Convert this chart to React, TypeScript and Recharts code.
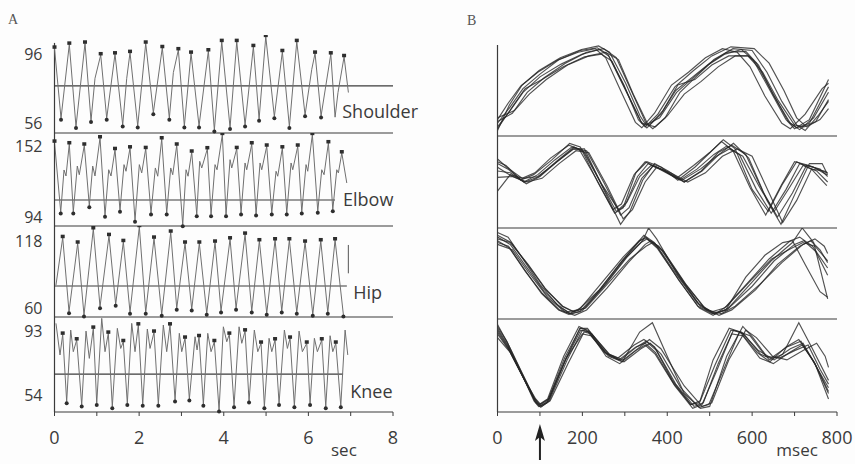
import React from 'react';
import { LineChart, Line, XAxis, YAxis, ReferenceLine, ReferenceDot } from 'recharts';

type Pt = number[];

// A: joint angle (deg) against time (sec) -> [t, deg, marker] (1 = peak mark, -1 = trough mark)
const secTicks = [0, 1, 2, 3, 4, 5, 6, 7, 8];
const msecTicks = [0, 100, 200, 300, 400, 500, 600, 700, 800];

const shoulderA: Pt[] = [
  [0, 98.6, 1], [0.154, 59.7, -1], [0.35, 100.8, 1], [0.508, 55.1, -1], [0.721, 101.4, 1], [0.863, 58.4, -1],
  [0.957, 81.9], [1.092, 94.9, 1], [1.234, 59.7, -1], [1.43, 95.4, 1], [1.612, 56.0, -1], [1.707, 81.9],
  [1.785, 96.2, 1], [1.967, 55.4, -1], [2.156, 101.4, 1], [2.336, 62.8, -1], [2.548, 98.9, 1], [2.714, 59.7, -1],
  [2.809, 85.1], [2.927, 97.7, 1], [3.069, 55.4, -1], [3.227, 95.8, 1], [3.416, 55.4, -1], [3.636, 97.1, 1],
  [3.778, 53.2, -1], [3.953, 102.3, 1], [4.149, 54.5, -1], [4.307, 102.3, 1], [4.504, 56.0, -1], [4.7, 99.5, 1],
  [4.835, 59.2, -1], [4.993, 105.1, 1], [5.196, 60.6, -1], [5.385, 96.7, 1], [5.551, 55.1, -1], [5.726, 102.3, 1],
  [5.922, 61.6, -1], [6.08, 86.9], [6.158, 95.8, 1], [6.3, 61.0, -1], [6.53, 95.4, 1], [6.631, 60.3], [6.7, 74],
  [6.844, 93.9, 1], [6.946, 74.0],
];

const elbowA: Pt[] = [
  [0, 154.1, 1], [0.147, 99.5, -1], [0.225, 132.4], [0.272, 127.7], [0.35, 152.8, 1], [0.444, 99.5, -1],
  [0.539, 135.5], [0.586, 128.7], [0.704, 151.8, 1], [0.823, 104.4, -1], [0.903, 135.5], [0.957, 127.7],
  [1.076, 157.5, 1], [1.194, 96.9, -1], [1.281, 132.6], [1.336, 127.7], [1.43, 148.3, 1], [1.548, 100.8, -1],
  [1.643, 136.6], [1.69, 131.4], [1.785, 149.6, 1], [1.903, 93.0, -1], [2.005, 136.6], [2.061, 130.1],
  [2.156, 149.1, 1], [2.281, 98.7, -1], [2.383, 134.0], [2.44, 127.5], [2.534, 156.7, 1], [2.652, 98.7, -1],
  [2.747, 134.0], [2.794, 128.7], [2.889, 151.8, 1], [3.031, 89.5, -1], [3.109, 132.6], [3.156, 127.5],
  [3.243, 146.3, 1], [3.362, 97.4, -1], [3.432, 139.2], [3.48, 134.0], [3.612, 148.9, 1], [3.7, 97.4, -1],
  [3.794, 136.6], [3.841, 132.6], [3.967, 160.1, 1], [4.054, 97.4, -1], [4.149, 140.5], [4.189, 134.0],
  [4.307, 149.1, 1], [4.409, 98.7, -1], [4.503, 137.9], [4.543, 132.6], [4.662, 152.8, 1], [4.764, 97.9, -1],
  [4.858, 137.9], [4.898, 132.6], [5.016, 151.0, 1], [5.135, 98.7, -1], [5.236, 131.4], [5.276, 127.5],
  [5.385, 149.6, 1], [5.489, 98.7, -1], [5.591, 137.9], [5.631, 132.6], [5.749, 151.0, 1], [5.844, 99.5, -1],
  [5.945, 136.6], [5.985, 131.4], [6.094, 160.1, 1], [6.222, 100.0, -1], [6.316, 132.6], [6.371, 128.7],
  [6.473, 153.6, 1], [6.577, 101.3, -1], [6.671, 132.6], [6.709, 130.1], [6.79, 145.7, 1], [6.908, 122.2],
];

const hipA: Pt[] = [
  [0.035, 80.7], [0.194, 119.9, 1], [0.343, 58.6, -1], [0.548, 115.3, 1], [0.697, 55.9, -1], [0.917, 127.1, 1],
  [1.076, 62.7, -1], [1.288, 121.6, 1], [1.446, 64.7, -1], [1.627, 116.6, 1], [1.785, 58.1, -1], [2.005, 129.0, 1],
  [2.156, 58.1, -1], [2.352, 119.4, 1], [2.534, 56.4, -1], [2.747, 124.4, 1], [2.889, 61.4, -1], [3.085, 115.3, 1],
  [3.243, 60.8, -1], [3.423, 115.3, 1], [3.598, 57.3, -1], [3.794, 116.1, 1], [3.936, 59.2, -1], [4.149, 118.8, 1],
  [4.291, 61.4, -1], [4.504, 122.7, 1], [4.662, 59.2, -1], [4.842, 117.2, 1], [5.016, 57.3, -1], [5.213, 118.0, 1],
  [5.371, 59.2, -1], [5.551, 118.0, 1], [5.726, 58.1, -1], [5.922, 116.1, 1], [6.104, 56.4, -1], [6.293, 117.2, 1],
  [6.459, 58.1, -1], [6.631, 118.0, 1], [6.828, 55.9, -1],
];
const hipCalibration: Pt[] = [[6.946, 113.9], [6.946, 90.4]];

const kneeA: Pt[] = [
  [0.035, 96.9], [0.13, 78.5], [0.194, 90.5, 1], [0.288, 51.3, -1], [0.383, 93.0], [0.444, 80.4], [0.525, 87.2, 1],
  [0.643, 49.4, -1], [0.745, 92.4], [0.823, 76.5], [0.917, 94.0, 1], [0.998, 50.3, -1], [1.116, 99.8], [1.194, 80.4],
  [1.272, 91.1, 1], [1.366, 48.4, -1], [1.485, 94.0], [1.565, 82.3], [1.626, 86.2, 1], [1.721, 50.3, -1],
  [1.825, 96.9], [1.903, 80.4], [1.981, 95.9, 1], [2.085, 49.8, -1], [2.194, 93.6], [2.258, 82.3], [2.352, 91.7, 1],
  [2.454, 49.8, -1], [2.572, 95.9], [2.652, 80.4], [2.73, 95.9, 1], [2.849, 52.3, -1], [2.95, 91.1], [3.007, 80.4],
  [3.085, 88.2, 1], [3.187, 52.8, -1], [3.322, 89.1], [3.369, 81.4], [3.416, 89.1, 1], [3.518, 49.8, -1],
  [3.622, 91.1], [3.7, 80.4], [3.778, 86.2, 1], [3.889, 46.4, -1], [3.991, 94.9], [4.071, 86.2], [4.132, 90.5, 1],
  [4.243, 48.9, -1], [4.362, 94.9], [4.426, 85.3], [4.504, 92.4, 1], [4.598, 51.7, -1], [4.723, 93.0], [4.804, 80.4],
  [4.882, 85.3, 1], [4.96, 48.4, -1], [5.071, 88.2], [5.135, 80.4], [5.213, 87.2, 1], [5.307, 50.3, -1],
  [5.433, 93.0], [5.504, 82.3], [5.567, 88.2, 1], [5.669, 48.9, -1], [5.78, 92.4], [5.858, 80.4], [5.962, 85.3, 1],
  [6.04, 50.3, -1], [6.142, 88.2], [6.213, 80.4], [6.317, 87.2, 1], [6.411, 48.4, -1], [6.513, 89.7], [6.577, 80.4],
  [6.648, 85.3, 1], [6.766, 48.9, -1], [6.868, 93.0], [6.931, 78.5],
];

const jointNames = ['Shoulder', 'Elbow', 'Hip', 'Knee'];
const rangeLabels = [[56, 96], [94, 152], [60, 118], [54, 93]];
const meanAngles = [77.7, 108.9, 79.9, 67.4];

// B: superimposed cycles, [msec, relative position 0-100]
const shoulderRuns: Pt[][] = [
  [[0, 10], [30, 28], [60, 48], [100, 65], [150, 79], [200, 90], [240, 95], [262, 88], [300, 52], [338, 16], [352, 9], [385, 24], [420, 50], [460, 65], [500, 80], [540, 92], [585, 93], [615, 78], [650, 45], [690, 14], [712, 7], [745, 20], [780, 48]],
  [[0, 16], [35, 25], [70, 48], [110, 64], [160, 80], [210, 92], [250, 96], [280, 86], [315, 50], [350, 14], [366, 8], [395, 20], [430, 48], [470, 66], [510, 84], [555, 96], [600, 94], [635, 70], [670, 38], [705, 12], [725, 6], [755, 22], [780, 38]],
  [[0, 18], [25, 36], [55, 55], [95, 70], [140, 83], [190, 92], [230, 96], [255, 86], [290, 50], [325, 15], [340, 9], [370, 25], [410, 56], [450, 70], [490, 86], [530, 96], [565, 92], [595, 76], [630, 44], [670, 14], [690, 8], [725, 24], [765, 52], [780, 58]],
  [[0, 8], [35, 32], [65, 52], [105, 62], [155, 76], [205, 87], [245, 90], [270, 82], [305, 48], [340, 14], [358, 12], [390, 28], [425, 56], [465, 62], [505, 78], [545, 88], [590, 88], [625, 70], [660, 40], [700, 12], [722, 10], [750, 16], [780, 40]],
  [[0, 14], [30, 32], [60, 52], [100, 68], [145, 84], [195, 94], [235, 97], [260, 90], [298, 56], [332, 18], [348, 10], [378, 24], [418, 54], [462, 72], [505, 88], [550, 98], [605, 96], [640, 80], [675, 50], [705, 20], [728, 10], [760, 18], [780, 30]],
  [[0, 20], [40, 28], [75, 46], [115, 62], [165, 78], [215, 88], [255, 92], [285, 84], [320, 46], [355, 12], [372, 10], [400, 22], [440, 46], [480, 60], [520, 76], [560, 88], [590, 88], [610, 80], [645, 50], [685, 16], [705, 9], [735, 14], [780, 54]],
  [[0, 6], [28, 34], [58, 56], [98, 72], [148, 86], [198, 95], [238, 99], [264, 92], [302, 58], [336, 22], [350, 12], [382, 20], [422, 48], [456, 62], [496, 78], [536, 90], [575, 95], [602, 84], [640, 52], [680, 18], [700, 8], [735, 18], [780, 62]],
];

const elbowRuns: Pt[][] = [
  [[0, 70], [25, 64], [62, 50], [95, 58], [135, 74], [175, 88], [200, 85], [240, 52], [280, 18], [300, 24], [330, 56], [355, 70], [390, 63], [430, 52], [470, 64], [510, 80], [540, 89], [570, 80], [610, 42], [645, 16], [680, 42], [712, 70], [745, 66], [776, 58]],
  [[0, 62], [30, 60], [68, 48], [100, 56], [140, 72], [180, 86], [210, 84], [250, 50], [290, 14], [310, 22], [340, 54], [368, 68], [400, 60], [440, 50], [480, 62], [520, 82], [552, 90], [585, 80], [625, 40], [660, 12], [695, 38], [728, 68], [760, 64], [778, 56]],
  [[0, 75], [22, 66], [58, 54], [88, 60], [125, 76], [168, 90], [192, 86], [232, 54], [272, 20], [292, 26], [322, 58], [348, 72], [382, 64], [422, 54], [462, 68], [500, 82], [528, 94], [555, 84], [595, 44], [632, 14], [668, 46], [700, 72], [735, 68], [776, 60]],
  [[0, 55], [35, 56], [70, 50], [105, 54], [145, 70], [185, 84], [215, 82], [258, 46], [296, 10], [318, 20], [348, 50], [375, 66], [408, 60], [448, 50], [490, 60], [530, 78], [565, 86], [600, 78], [640, 38], [672, 6], [705, 30], [740, 64], [770, 62], [778, 60]],
  [[0, 72], [20, 68], [55, 52], [85, 58], [128, 74], [170, 92], [195, 88], [236, 50], [276, 16], [296, 22], [326, 60], [352, 72], [386, 66], [425, 52], [465, 66], [505, 84], [532, 96], [560, 86], [600, 42], [638, 18], [672, 48], [705, 72], [740, 64], [776, 46]],
  [[0, 66], [28, 58], [65, 50], [98, 56], [138, 72], [180, 88], [206, 82], [245, 48], [285, 20], [305, 28], [335, 56], [362, 68], [395, 62], [435, 52], [478, 64], [516, 78], [546, 86], [578, 78], [618, 44], [652, 18], [688, 44], [720, 68], [752, 62], [778, 50]],
  [[0, 40], [30, 58], [60, 54], [95, 56], [135, 70], [178, 86], [205, 86], [248, 44], [290, 4], [312, 18], [342, 52], [370, 70], [402, 62], [440, 50], [482, 62], [522, 80], [556, 92], [592, 76], [635, 30], [668, 4], [700, 36], [735, 70], [765, 70], [778, 58]],
];

const hipRuns: Pt[][] = [
  [[0, 90], [30, 82], [70, 56], [110, 30], [150, 12], [172, 6], [200, 9], [250, 36], [300, 66], [338, 84], [352, 88], [380, 80], [430, 46], [478, 14], [512, 5], [545, 12], [600, 36], [652, 64], [700, 82], [722, 86], [750, 74], [778, 48]],
  [[0, 95], [25, 90], [60, 66], [100, 38], [140, 16], [165, 8], [190, 10], [240, 32], [290, 62], [330, 84], [345, 92], [370, 84], [420, 50], [470, 18], [505, 8], [535, 12], [590, 40], [640, 66], [690, 86], [712, 90], [742, 80], [778, 56]],
  [[0, 82], [35, 76], [75, 50], [118, 24], [158, 8], [182, 4], [210, 10], [258, 34], [308, 62], [348, 82], [362, 86], [388, 76], [440, 40], [488, 12], [522, 4], [552, 10], [608, 32], [660, 60], [712, 80], [738, 86], [760, 76], [778, 62]],
  [[0, 88], [30, 84], [72, 60], [112, 34], [152, 14], [178, 8], [205, 12], [255, 38], [305, 68], [342, 86], [356, 100], [375, 88], [425, 48], [475, 16], [510, 6], [540, 10], [595, 38], [645, 64], [695, 84], [718, 100], [745, 84], [778, 22]],
  [[0, 86], [28, 78], [66, 52], [106, 28], [146, 10], [170, 6], [196, 12], [246, 40], [296, 68], [334, 86], [350, 90], [378, 78], [428, 42], [476, 12], [508, 4], [540, 14], [596, 42], [646, 66], [694, 78], [720, 84], [748, 80], [778, 64]],
  [[0, 92], [32, 84], [74, 58], [114, 32], [154, 14], [180, 8], [208, 12], [262, 40], [312, 66], [350, 80], [366, 84], [392, 74], [444, 38], [492, 10], [528, 6], [560, 14], [618, 38], [670, 62], [720, 82], [748, 88], [770, 80], [778, 72]],
  [[0, 84], [26, 80], [64, 54], [104, 28], [144, 10], [168, 5], [194, 8], [244, 34], [294, 64], [336, 86], [350, 89], [376, 78], [426, 44], [472, 14], [506, 6], [538, 10], [585, 46], [630, 70], [672, 84], [695, 86], [725, 60], [760, 30], [778, 24]],
];

const kneeRuns: Pt[][] = [
  [[0, 88], [25, 70], [60, 38], [88, 12], [100, 6], [120, 12], [160, 56], [196, 88], [215, 86], [258, 62], [290, 56], [328, 70], [350, 76], [375, 66], [420, 30], [463, 6], [485, 10], [520, 52], [556, 88], [580, 84], [620, 62], [652, 56], [690, 68], [720, 74], [750, 50], [780, 20]],
  [[0, 92], [22, 76], [55, 44], [85, 16], [98, 8], [118, 14], [156, 60], [192, 92], [210, 88], [252, 64], [284, 58], [322, 72], [345, 78], [370, 70], [412, 34], [455, 8], [476, 10], [508, 56], [546, 90], [572, 86], [612, 64], [642, 54], [680, 70], [710, 78], [742, 56], [780, 26]],
  [[0, 84], [28, 66], [64, 34], [92, 10], [104, 6], [124, 12], [166, 52], [204, 86], [222, 84], [266, 60], [298, 54], [338, 68], [360, 74], [386, 62], [432, 26], [475, 5], [498, 8], [535, 48], [570, 86], [595, 82], [632, 60], [664, 58], [700, 66], [732, 72], [760, 46], [780, 30]],
  [[0, 80], [30, 64], [62, 36], [90, 14], [102, 8], [122, 14], [162, 58], [200, 84], [220, 82], [262, 60], [294, 54], [335, 86], [365, 96], [400, 60], [440, 20], [478, 4], [500, 6], [540, 60], [578, 92], [602, 80], [640, 56], [672, 62], [710, 96], [740, 70], [780, 34]],
  [[0, 90], [24, 72], [58, 40], [86, 12], [97, 6], [116, 10], [158, 54], [194, 90], [212, 90], [255, 64], [286, 56], [326, 70], [348, 74], [372, 64], [416, 30], [456, 8], [478, 12], [512, 50], [550, 88], [575, 86], [615, 66], [645, 58], [682, 70], [715, 76], [748, 52], [780, 14]],
  [[0, 86], [26, 68], [62, 36], [90, 10], [102, 5], [122, 12], [164, 56], [200, 88], [218, 86], [264, 62], [296, 56], [336, 70], [358, 78], [385, 68], [440, 28], [482, 6], [505, 10], [545, 56], [585, 88], [610, 80], [648, 60], [682, 56], [720, 66], [752, 74], [772, 60], [780, 48]],
  [[0, 94], [24, 74], [58, 42], [88, 14], [100, 8], [120, 14], [158, 58], [195, 90], [214, 88], [256, 60], [288, 52], [326, 66], [348, 72], [372, 62], [418, 28], [460, 4], [482, 8], [518, 46], [552, 84], [578, 82], [618, 58], [650, 52], [688, 64], [718, 72], [746, 54], [780, 22]],
];

const INK = '#3b3b3b';
const TRACE = '#707070';
const FONT = "'Open Sans', 'DejaVu Sans', sans-serif";

const toRows = (pts: Pt[]) => pts.map(([t, v, m]) => ({ t, v, m: m || 0 }));

const markDot = (p: any) => {
  const { cx, cy, payload, index } = p;
  if (payload.m === 1) return <rect key={index} x={cx - 2} y={cy - 3} width={4} height={3.5} fill="#2e2e2e" />;
  if (payload.m === -1) return <circle key={index} cx={cx} cy={cy + 1.5} r={2} fill="#2e2e2e" />;
  return <g key={index} />;
};

// range labels: the lower one sits a little higher, the upper one a little lower, so stacked strips don't collide
const rangeTick = (p: any) => {
  const { x, y, payload, index } = p;
  const nudge = index === 0 ? -1.5 : 1.5;
  return (
    <text x={x} y={y + nudge} dy="0.355em" textAnchor="end" fill={INK} fontSize={16}>
      {payload.value}
    </text>
  );
};

const arrowShape = (p: any) => {
  const { cx, cy } = p;
  return (
    <g>
      <line x1={cx} y1={cy + 24} x2={cx} y2={cy + 48} stroke="#222" strokeWidth={2} />
      <path d={`M${cx} ${cy + 12} L${cx - 5} ${cy + 29} L${cx} ${cy + 25} L${cx + 5} ${cy + 29} Z`} fill="#222" />
    </g>
  );
};

// layout of the stacked strips (px)
const aStrips = [
  { top: 35, h: 98, domain: [51.5, 106], midEnd: 8, labelAt: [6.8, 63.2], trace: shoulderA },
  { top: 133, h: 93, domain: [88.5, 161.4], midEnd: 6.63, labelAt: [6.82, 108.9], trace: elbowA },
  { top: 226, h: 91, domain: [54.2, 129.6], midEnd: 6.91, labelAt: [7.06, 74.1], trace: hipA },
  { top: 317, h: 95, domain: [45.3, 100.6], midEnd: 6.82, labelAt: [6.99, 56.9], trace: kneeA },
];
const bStrips = [
  { top: 45, h: 91, runs: shoulderRuns },
  { top: 136, h: 92, runs: elbowRuns },
  { top: 228, h: 91, runs: hipRuns },
  { top: 319, h: 93, runs: kneeRuns },
];

function panelA(i: number) {
  const s = aStrips[i];
  const last = i === aStrips.length - 1;
  const axisH = last ? 464 - s.top - s.h : 4;
  return (
    <div key={`a${i}`} style={{ position: 'absolute', left: 0, top: s.top }}>
      <LineChart width={440} height={s.h + axisH} margin={{ top: 0, right: 47, bottom: 0, left: 0 }}>
        <XAxis
          type="number"
          dataKey="t"
          domain={[0, 8]}
          ticks={secTicks}
          interval={0}
          height={axisH}
          axisLine={{ stroke: INK, strokeWidth: 1.2 }}
          tickLine={{ stroke: INK }}
          tickSize={4}
          tickMargin={15}
          tick={last ? { fill: INK, fontSize: 18 } : false}
          tickFormatter={(v: number) => (v % 2 === 0 ? String(v) : '')}
        />
        <YAxis
          type="number"
          domain={s.domain}
          ticks={rangeLabels[i]}
          interval={0}
          width={54.5}
          axisLine={i === 0 ? false : { stroke: INK, strokeWidth: 1.2 }}
          tickLine={false}
          tickSize={0}
          tickMargin={12}
          tick={rangeTick}
        />
        {i === 0 && (
          <ReferenceLine segment={[{ x: 0, y: 51.5 }, { x: 0, y: 101.6 }]} stroke={INK} strokeWidth={1.2} />
        )}
        <ReferenceLine
          segment={[{ x: 0, y: meanAngles[i] }, { x: s.midEnd, y: meanAngles[i] }]}
          stroke={INK}
          strokeWidth={1.2}
        />
        <Line
          data={toRows(s.trace)}
          dataKey="v"
          type="linear"
          stroke={TRACE}
          strokeWidth={1}
          dot={markDot}
          activeDot={false}
          isAnimationActive={false}
        />
        {i === 2 && (
          <Line
            data={toRows(hipCalibration)}
            dataKey="v"
            stroke={TRACE}
            strokeWidth={1.2}
            dot={false}
            activeDot={false}
            isAnimationActive={false}
          />
        )}
        <ReferenceDot
          x={s.labelAt[0]}
          y={s.labelAt[1]}
          r={0}
          fill="none"
          stroke="none"
          ifOverflow="visible"
          label={{ value: jointNames[i], position: 'right', offset: 0, fill: INK, fontSize: 18 }}
        />
        {last && (
          <ReferenceDot
            x={6.84}
            y={45.3}
            r={0}
            fill="none"
            stroke="none"
            ifOverflow="visible"
            label={{ value: 'sec', position: 'bottom', offset: 32, fill: INK, fontSize: 17 }}
          />
        )}
      </LineChart>
    </div>
  );
}

function panelB(i: number) {
  const s = bStrips[i];
  const last = i === bStrips.length - 1;
  const axisH = last ? 464 - s.top - s.h : 4;
  return (
    <div key={`b${i}`} style={{ position: 'absolute', left: 440, top: s.top }}>
      <LineChart width={415} height={s.h + axisH} margin={{ top: 0, right: 18, bottom: 0, left: 0 }}>
        <XAxis
          type="number"
          dataKey="t"
          domain={[0, 800]}
          ticks={msecTicks}
          interval={0}
          height={axisH}
          axisLine={{ stroke: INK, strokeWidth: 1.2 }}
          tickLine={{ stroke: INK }}
          tickSize={4}
          tickMargin={15}
          tick={last ? { fill: INK, fontSize: 18 } : false}
          tickFormatter={(v: number) => (v % 200 === 0 ? String(v) : '')}
        />
        <YAxis
          type="number"
          domain={[0, 100]}
          width={57.5}
          axisLine={{ stroke: INK, strokeWidth: 1.2 }}
          tickLine={false}
          tick={false}
        />
        {s.runs.map((run, k) => (
          <Line
            key={k}
            data={toRows(run)}
            dataKey="v"
            type="linear"
            stroke="#262626"
            strokeOpacity={0.8}
            strokeWidth={1.15}
            dot={false}
            activeDot={false}
            isAnimationActive={false}
          />
        ))}
        {last && (
          <ReferenceDot x={100} y={0} r={0} ifOverflow="visible" shape={arrowShape} />
        )}
        {last && (
          <ReferenceDot
            x={706}
            y={0}
            r={0}
            fill="none"
            stroke="none"
            ifOverflow="visible"
            label={{ value: 'msec', position: 'bottom', offset: 32, fill: INK, fontSize: 17 }}
          />
        )}
      </LineChart>
    </div>
  );
}

export default function App() {
  return (
    <div
      style={{
        position: 'absolute',
        left: 0,
        top: 0,
        width: 855,
        height: 464,
        background: '#fdfdfd',
        fontFamily: FONT,
        overflow: 'hidden',
      }}
    >
      <div style={{ position: 'absolute', left: 8, top: 13, fontFamily: "'Liberation Serif', serif", fontSize: 14, lineHeight: '14px', color: '#555' }}>
        A
      </div>
      <div style={{ position: 'absolute', left: 467, top: 14, fontFamily: "'Liberation Serif', serif", fontSize: 14, lineHeight: '14px', color: '#555' }}>
        B
      </div>
      {aStrips.map((_, i) => panelA(i))}
      {bStrips.map((_, i) => panelB(i))}
    </div>
  );
}
